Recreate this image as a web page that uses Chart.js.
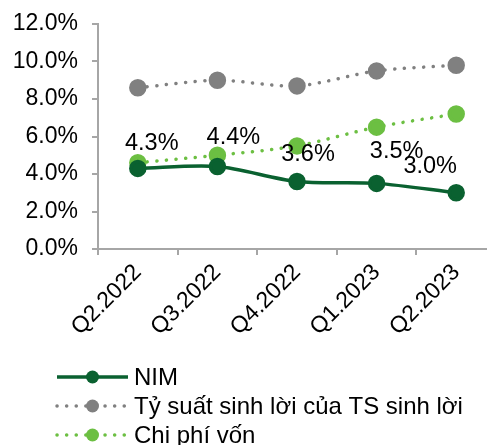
<!DOCTYPE html>
<html><head><meta charset="utf-8">
<script src="https://cdn.jsdelivr.net/npm/chart.js@4"></script>
<style>html,body{margin:0;padding:0;background:#fff;overflow:hidden}#wrap{width:487px;height:445px;overflow:hidden}</style>
</head><body><div id="wrap"><canvas id="c" width="496" height="445"></canvas></div>
<script>
const categories = ['Q2.2022','Q3.2022','Q4.2022','Q1.2023','Q2.2023'];
const nim = [4.3, 4.4, 3.6, 3.5, 3.0];
const yieldEA = [8.6, 9.0, 8.7, 9.5, 9.8];
const costFunds = [4.6, 5.0, 5.5, 6.5, 7.2];
const seriesNames = ['NIM', 'Tỷ suất sinh lời của TS sinh lời', 'Chi phí vốn'];
const yTicks = [0, 2, 4, 6, 8, 10, 12];

const FONT = '"Liberation Sans", Arial, sans-serif';
const DARK = '#0a6130', GRAY = '#808080', LIGHT = '#6cbf42', AXIS = '#a6a6a6';

const labelPlugin = {
  id: 'nimLabels',
  afterDatasetsDraw(chart, args, opts) {
    const ctx = chart.ctx, meta = chart.getDatasetMeta(0);
    ctx.save();
    ctx.font = '23.5px ' + FONT;
    ctx.fillStyle = '#000';
    ctx.textAlign = 'center';
    ctx.textBaseline = 'middle';
    meta.data.forEach((pt, i) => {
      const o = opts.offsets[i];
      ctx.fillText(nim[i].toFixed(1) + '%', pt.x + o[0], pt.y + o[1]);
    });
    ctx.restore();
  }
};

const legendPlugin = {
  id: 'lineLegend',
  afterDraw(chart, args, opts) {
    const ctx = chart.ctx;
    ctx.save();
    chart.data.datasets.forEach((ds, i) => {
      const y = opts.top + i * opts.rowGap;
      ctx.strokeStyle = ds.borderColor;
      ctx.lineWidth = ds.borderWidth;
      ctx.lineCap = ds.borderCapStyle || 'butt';
      ctx.setLineDash(ds.borderDash || []);
      ctx.beginPath();
      ctx.moveTo(opts.left, y);
      ctx.lineTo(opts.left + opts.lineLen, y);
      ctx.stroke();
      ctx.setLineDash([]);
      ctx.fillStyle = ds.pointBackgroundColor;
      ctx.beginPath();
      ctx.arc(opts.left + opts.lineLen / 2, y, opts.pointR, 0, Math.PI * 2);
      ctx.fill();
      ctx.fillStyle = '#000';
      ctx.font = '24px ' + FONT;
      ctx.textAlign = 'left';
      ctx.textBaseline = 'middle';
      ctx.fillText(ds.label, opts.left + opts.lineLen + 6, y + 1);
    });
    ctx.restore();
  }
};

new Chart(document.getElementById('c'), {
  type: 'line',
  data: {
    labels: categories,
    datasets: [
      { label: seriesNames[0], data: nim, borderColor: DARK, backgroundColor: DARK,
        pointBackgroundColor: DARK, pointBorderColor: DARK, borderWidth: 3.5,
        pointRadius: 7, tension: 0.3, order: 0 },
      { label: seriesNames[1], data: yieldEA, borderColor: GRAY, backgroundColor: GRAY,
        pointBackgroundColor: GRAY, pointBorderColor: GRAY, borderWidth: 3.5,
        borderDash: [0.1, 9.5], borderCapStyle: 'round', pointRadius: 7, tension: 0.3, order: 1 },
      { label: seriesNames[2], data: costFunds, borderColor: LIGHT, backgroundColor: LIGHT,
        pointBackgroundColor: LIGHT, pointBorderColor: LIGHT, borderWidth: 3.5,
        borderDash: [0.1, 9.5], borderCapStyle: 'round', pointRadius: 7, tension: 0.3, order: 2 }
    ]
  },
  options: {
    responsive: false,
    animation: false,
    events: [],
    layout: { autoPadding: false, padding: { top: 24, right: 0, left: 0, bottom: 110 } },
    plugins: {
      legend: { display: false },
      tooltip: { enabled: false },
      nimLabels: { offsets: [[14, -25], [16, -29], [11, -27], [20, -32], [-26, -26]] },
      lineLegend: { left: 57, top: 377, rowGap: 29, lineLen: 71, pointR: 6.5 }
    },
    scales: {
      y: {
        min: 0, max: 12,
        afterFit(s) { s.width = 98; s.paddingTop = 0; s.paddingBottom = 0; },
        afterBuildTicks(s) { s.ticks = yTicks.map(v => ({ value: v })); },
        border: { display: true, color: AXIS, width: 2 },
        grid: { display: true, drawOnChartArea: false, drawTicks: true, tickLength: 6, color: AXIS, lineWidth: 2 },
        ticks: { color: '#000', font: { family: FONT, size: 23 }, padding: 14,
          callback: v => v.toFixed(1) + '%' }
      },
      x: {
        offset: true,
        afterFit(s) { s.height = 86; s.paddingLeft = 0; s.paddingRight = 0; },
        border: { display: true, color: AXIS, width: 2 },
        grid: { display: true, offset: true, drawOnChartArea: false, drawTicks: true, tickLength: 6, color: AXIS, lineWidth: 2 },
        ticks: { color: '#000', font: { family: FONT, size: 23 }, maxRotation: 45, minRotation: 45, padding: 4 }
      }
    }
  },
  plugins: [labelPlugin, legendPlugin]
});
</script>
</body></html>
